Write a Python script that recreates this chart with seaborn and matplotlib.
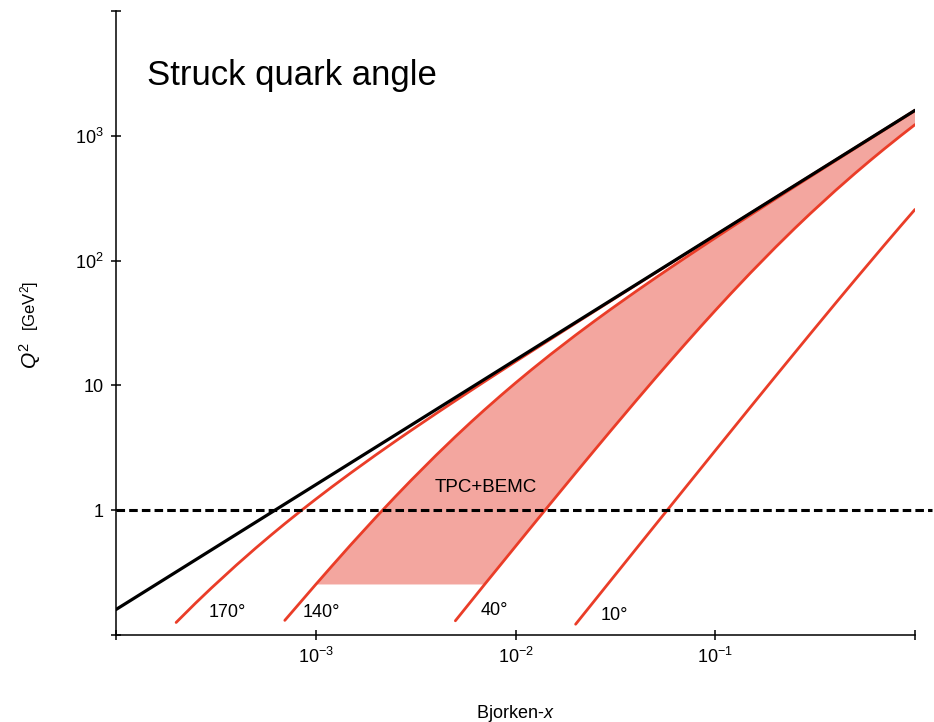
import matplotlib
matplotlib.use("Agg")
import matplotlib.pyplot as plt
import seaborn as sns
import pandas as pd
from matplotlib.ticker import FixedLocator, FixedFormatter, NullLocator

# ---------------- data ----------------
# kinematic limit y = 1
black_x = [1e-4, 1.0]
black_q2 = [0.16, 1600.0]

# struck-quark-angle iso-lines
x_170 = [2e-4, 2.5e-4, 3e-4, 4e-4, 5e-4, 6e-4, 7e-4, 8.5e-4, 1e-3, 1.2e-3, 1.5e-3, 2e-3,
         2.5e-3, 3e-3, 4e-3, 5e-3, 7e-3, 0.01, 0.02, 0.035, 0.05, 0.1, 0.2, 0.5, 1.0]
q2_170 = [0.126, 0.1798, 0.2376, 0.3625, 0.4962, 0.6356, 0.7792, 0.9999, 1.225, 1.530,
          1.993, 2.775, 3.564, 4.355, 5.945, 7.538, 10.73, 15.52, 31.52, 55.51, 79.51,
          159.5, 319.5, 799.5, 1599.5]

x_140 = [7e-4, 1e-3, 1.2e-3, 1.5e-3, 2e-3, 2.5e-3, 3e-3, 4e-3, 5e-3, 6e-3, 7e-3, 8.5e-3,
         0.01, 0.012, 0.015, 0.02, 0.025, 0.03, 0.04, 0.05, 0.06, 0.07, 0.085, 0.1, 0.12,
         0.15, 0.2, 0.25, 0.3, 0.4, 0.5, 0.6, 0.7, 0.85, 1.0]
q2_140 = [0.131, 0.254, 0.3545, 0.530, 0.877, 1.282, 1.735, 2.753, 3.884, 5.098, 6.375,
          8.377, 10.46, 13.32, 17.74, 25.30, 33.00, 40.79, 56.51, 72.33, 88.21, 104.1,
          128.0, 151.9, 183.9, 231.8, 311.7, 391.7, 471.7, 631.6, 791.6, 951.6, 1111.6,
          1351.6, 1591.6]

x_40 = [5e-3, 7e-3, 8.5e-3, 0.01, 0.012, 0.015, 0.02, 0.025, 0.03, 0.04, 0.05, 0.06,
        0.07, 0.085, 0.1, 0.12, 0.15, 0.2, 0.25, 0.3, 0.4, 0.5, 0.6, 0.7, 0.85, 1.0]
q2_40 = [0.130, 0.254, 0.3724, 0.513, 0.7339, 1.136, 1.988, 3.059, 4.338, 7.487, 11.37,
         15.91, 21.08, 29.88, 39.81, 54.60, 79.66, 127.5, 181.2, 239.2, 364.7, 498.8,
         638.6, 782.5, 1003.5, 1228.9]

x_10 = [0.02, 0.03, 0.04, 0.05, 0.07, 0.1, 0.15, 0.2, 0.3, 0.4, 0.5, 0.7, 0.85, 1.0]
q2_10 = [0.122, 0.274, 0.4862, 0.758, 1.480, 3.004, 6.697, 11.80, 26.06, 45.51, 69.86,
         132.3, 190.3, 257.0]

angle_labels = ["170°", "140°", "40°", "10°"]
q2_cut = 1.0          # dashed line
q2_fill_min = 0.25    # bottom of TPC+BEMC band

x_ticks = [1e-4, 1e-3, 1e-2, 1e-1, 1.0]
x_ticklabels = ["", r"$10^{-3}$", r"$10^{-2}$", r"$10^{-1}$", ""]
y_ticks = [0.1, 1, 10, 100, 1000, 10000]
y_ticklabels = ["", "1", "10", r"$10^2$", r"$10^3$", ""]

# ---------------- style ----------------
sns.set_style("ticks")
plt.rcParams["font.family"] = ["Liberation Sans", "DejaVu Sans"]
plt.rcParams["mathtext.fontset"] = "custom"
plt.rcParams["mathtext.rm"] = "Liberation Sans"
plt.rcParams["mathtext.it"] = "Liberation Sans:italic"
plt.rcParams["mathtext.bf"] = "Liberation Sans:bold"
plt.rcParams["text.color"] = "black"
plt.rcParams["axes.labelcolor"] = "black"
plt.rcParams["xtick.color"] = "black"
plt.rcParams["ytick.color"] = "black"

RED = "#ea3d28"
FILL = "#f3a69f"

fig = plt.figure(figsize=(9.34, 7.22), dpi=100)
ax = fig.add_axes([116 / 934, 1 - 635 / 722, (915 - 116) / 934, (635 - 11) / 722])
ax.set_xscale("log")
ax.set_yscale("log")
ax.set_xlim(1e-4, 1.0)
ax.set_ylim(0.1, 1e4)

# filled TPC+BEMC band: between 140° curve (top) and 40° curve (bottom), above Q^2 = 0.25
top_x = [x for x in x_140 if x >= 1e-3]
top_y = [q for x, q in zip(x_140, q2_140) if x >= 1e-3]
bot_x = [x for x in x_40 if x >= 7e-3]
bot_y = [q for x, q in zip(x_40, q2_40) if x >= 7e-3]
poly_x = top_x + bot_x[::-1]
poly_y = top_y + bot_y[::-1]
ax.fill(poly_x, poly_y, color=FILL, lw=0, zorder=1)

# red iso-angle lines
for xs, qs in [(x_170, q2_170), (x_140, q2_140), (x_40, q2_40), (x_10, q2_10)]:
    df = pd.DataFrame({"x": xs, "Q2": qs})
    sns.lineplot(data=df, x="x", y="Q2", ax=ax, color=RED, lw=2.0, sort=False,
                 estimator=None, zorder=3)

# y = 1 kinematic limit
df_b = pd.DataFrame({"x": black_x, "Q2": black_q2})
sns.lineplot(data=df_b, x="x", y="Q2", ax=ax, color="black", lw=2.3, sort=False,
             estimator=None, zorder=4)

# dashed Q^2 = 1 line (extends a little past the axis end)
ax.plot([1e-4, 1.22], [q2_cut, q2_cut], color="black", lw=2.2, ls=(0, (2.8, 1.35)),
        clip_on=False, zorder=4)

# ---------------- axes decoration ----------------
sns.despine(ax=ax)
for sp in ["left", "bottom"]:
    ax.spines[sp].set_linewidth(1.1)
    ax.spines[sp].set_color("black")

ax.xaxis.set_major_locator(FixedLocator(x_ticks))
ax.xaxis.set_major_formatter(FixedFormatter(x_ticklabels))
ax.yaxis.set_major_locator(FixedLocator(y_ticks))
ax.yaxis.set_major_formatter(FixedFormatter(y_ticklabels))
ax.xaxis.set_minor_locator(NullLocator())
ax.yaxis.set_minor_locator(NullLocator())
ax.tick_params(axis="both", which="major", direction="inout", length=7.5, width=1.1,
               labelsize=13, colors="black", pad=5)

ax.set_xlabel("Bjorken-$x$", fontsize=13)
ax.xaxis.set_label_coords(0.5, -0.125)
ax.xaxis.label.set_va("center")
ax.set_ylabel("")

fig.text(30 / 934, 1 - 356 / 722, r"$Q^2$", rotation=90, fontsize=15, ha="center", va="center")
fig.text(30 / 934, 1 - 306 / 722, r"[GeV$^2$]", rotation=90, fontsize=12, ha="center", va="center")

# title inside the plot
fig.text(147 / 934, 1 - 85 / 722, "Struck quark angle", fontsize=25, ha="left", va="baseline")

# curve labels
label_pos = [(3.59e-4, 0.152), (1.07e-3, 0.152), (7.85e-3, 0.158), (3.13e-2, 0.144)]
for (lx, ly), txt in zip(label_pos, angle_labels):
    ax.text(lx, ly, txt, fontsize=13, ha="center", va="center", zorder=5)
ax.text(7.08e-3, 1.53, "TPC+BEMC", fontsize=13.5, ha="center", va="center", zorder=5)

fig.savefig("out.png", dpi=100, facecolor="white")
